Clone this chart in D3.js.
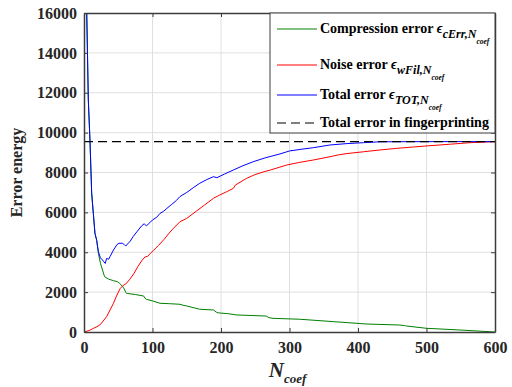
<!DOCTYPE html>
<html>
<head>
<meta charset="utf-8">
<script src="https://cdn.jsdelivr.net/npm/d3@7"></script>
<style>
  body { margin: 0; background: #fff; }
  svg text { font-family: "Liberation Serif", "Times New Roman", serif; }
</style>
</head>
<body>
<div id="chart"></div>
<script>
// ---- data ----
const xTicks = [0, 100, 200, 300, 400, 500, 600];
const yTicks = [0, 2000, 4000, 6000, 8000, 10000, 12000, 14000, 16000];
const fingerprintErr = 9550;

const nTotal = [2, 4, 6.3, 8.8, 11.2, 13.6, 16, 18.5, 21, 24, 27, 29, 31, 33, 36, 38, 43, 48, 51, 56, 59, 61, 63, 67, 72, 78, 84, 88, 91, 96, 100, 106, 111, 116, 121, 128, 135, 140, 150, 160, 169, 179, 189, 194, 205, 218, 232, 247, 265, 286, 300, 318, 335, 359, 384, 408, 432, 470, 520, 600];
const total = [20000, 16000, 11640, 9545, 6955, 5950, 4950, 4600, 4030, 3720, 3610, 3520, 3440, 3690, 3650, 3780, 4110, 4380, 4450, 4450, 4380, 4310, 4400, 4530, 4800, 5060, 5320, 5430, 5320, 5480, 5620, 5750, 5950, 6050, 6200, 6400, 6600, 6790, 7000, 7250, 7460, 7640, 7790, 7740, 7920, 8125, 8340, 8540, 8740, 8930, 9080, 9170, 9245, 9380, 9450, 9495, 9540, 9545, 9550, 9550];

const nNoise = [0, 3, 8, 14, 19, 23, 28, 33, 38, 43, 48, 53, 57, 61, 67, 73, 79, 85, 89, 93, 97, 102, 109, 117, 124, 130, 140, 150, 164, 176, 189, 198, 208, 218, 221, 237, 250, 263, 272, 286, 296, 315, 335, 359, 371, 384, 408, 432, 456, 481, 505, 535, 563, 600];
const noise = [0, 30, 80, 185, 270, 350, 550, 770, 1100, 1440, 1850, 2190, 2330, 2410, 2650, 2940, 3300, 3610, 3760, 3800, 3950, 4110, 4350, 4650, 4950, 5180, 5530, 5700, 6060, 6370, 6705, 6870, 7030, 7205, 7370, 7700, 7900, 8040, 8125, 8270, 8375, 8510, 8627, 8790, 8880, 8950, 9040, 9130, 9210, 9280, 9345, 9420, 9495, 9545];

const nCompr = [2, 4, 6.3, 8.8, 11.2, 13.6, 16, 18.5, 21, 24, 27, 30, 36, 43, 49, 52, 56, 58, 61, 62, 75, 87, 89, 91, 100, 111, 125, 140, 146, 150, 169, 189, 193, 196, 210, 223, 266, 270, 276, 315, 364, 413, 461, 468, 471, 500, 549, 600];
const compr = [20000, 16000, 11640, 9545, 6955, 5950, 4950, 4600, 3950, 3445, 3110, 2775, 2650, 2575, 2520, 2440, 2300, 2200, 1990, 1940, 1880, 1805, 1700, 1640, 1560, 1440, 1420, 1390, 1330, 1305, 1140, 1105, 1000, 960, 920, 855, 800, 720, 685, 640, 520, 400, 350, 320, 300, 185, 100, 0];

// ---- layout ----
const W = 512, H = 387;
const margin = {top: 13, right: 17, bottom: 55, left: 84};
const width = W - margin.left - margin.right,
  height = H - margin.top - margin.bottom;

const svg = d3.select('#chart').append('svg')
  .attr('width', W)
  .attr('height', H);

const g = svg.append('g')
  .attr('transform', 'translate(' + margin.left + ',' + margin.top + ')');

const x = d3.scaleLinear().domain([0, 600]).range([0, width]);
const y = d3.scaleLinear().domain([0, 16000]).range([height, 0]);

const axisCol = '#3c3c3c';

// grid
g.append('g').selectAll('line.gx')
  .data(xTicks.slice(1, -1))
  .enter().append('line')
  .attr('x1', d => x(d)).attr('x2', d => x(d))
  .attr('y1', 0).attr('y2', height)
  .attr('stroke', '#dfdfdf').attr('stroke-width', 1);
g.append('g').selectAll('line.gy')
  .data(yTicks.slice(1, -1))
  .enter().append('line')
  .attr('x1', 0).attr('x2', width)
  .attr('y1', d => y(d)).attr('y2', d => y(d))
  .attr('stroke', '#dfdfdf').attr('stroke-width', 1);

// clip for the curves
svg.append('defs').append('clipPath').attr('id', 'clip')
  .append('rect').attr('width', width).attr('height', height);

const line = d3.line().x(d => x(d[0])).y(d => y(d[1]));
const plot = g.append('g').attr('clip-path', 'url(#clip)');

plot.append('path')
  .datum(nCompr.map((n, i) => [n, compr[i]]))
  .attr('d', line).attr('fill', 'none')
  .attr('stroke', '#008000').attr('stroke-width', 1);
plot.append('path')
  .datum(nNoise.map((n, i) => [n, noise[i]]))
  .attr('d', line).attr('fill', 'none')
  .attr('stroke', '#ff0000').attr('stroke-width', 1);
plot.append('path')
  .datum(nTotal.map((n, i) => [n, total[i]]))
  .attr('d', line).attr('fill', 'none')
  .attr('stroke', '#0000ff').attr('stroke-width', 1);
plot.append('line')
  .attr('x1', x(0)).attr('x2', x(600))
  .attr('y1', y(fingerprintErr)).attr('y2', y(fingerprintErr))
  .attr('stroke', '#000').attr('stroke-width', 1.2)
  .attr('stroke-dasharray', '9,5');

// axes
const fmt = d3.format('d');
const axB = g.append('g').attr('transform', 'translate(0,' + height + ')')
  .call(d3.axisBottom(x).tickValues(xTicks).tickFormat(fmt).tickSizeInner(-4).tickSizeOuter(0).tickPadding(10));
const axL = g.append('g')
  .call(d3.axisLeft(y).tickValues(yTicks).tickFormat(fmt).tickSizeInner(-4).tickSizeOuter(0).tickPadding(7));
const axT = g.append('g')
  .call(d3.axisTop(x).tickValues(xTicks).tickFormat('').tickSizeInner(-4).tickSizeOuter(0));
const axR = g.append('g').attr('transform', 'translate(' + width + ',0)')
  .call(d3.axisRight(y).tickValues(yTicks).tickFormat('').tickSizeInner(-4).tickSizeOuter(0));

[axB, axL, axT, axR].forEach(a => {
  a.select('.domain').attr('stroke', axisCol).attr('stroke-width', 1.5);
  a.selectAll('.tick line').attr('stroke', axisCol);
  a.selectAll('text')
    .attr('fill', '#262626')
    .style('font-family', '"Liberation Serif", serif')
    .style('font-size', '16px')
    .style('font-weight', 'bold');
});

// axis labels
svg.append('text')
  .attr('transform', 'translate(22,' + (margin.top + height / 2) + ') rotate(-90)')
  .attr('text-anchor', 'middle')
  .attr('fill', '#262626')
  .style('font-size', '16px').style('font-weight', 'bold')
  .text('Error energy');

const xl = svg.append('text')
  .attr('x', margin.left + width / 2 - 2).attr('y', 377)
  .attr('text-anchor', 'middle')
  .attr('fill', '#262626')
  .style('font-weight', 'bold').style('font-style', 'italic');
xl.append('tspan').style('font-size', '21px').text('N');
xl.append('tspan').attr('dy', 6).style('font-size', '13px').text('coef');

// legend
const lg = g.append('g');
const lx = 270 - margin.left, lw = width - lx, lh = 133 - margin.top;
lg.append('rect')
  .attr('x', lx).attr('y', 0)
  .attr('width', lw).attr('height', lh)
  .attr('fill', '#fff').attr('stroke', axisCol).attr('stroke-width', 1);

const legItems = [
  {col: '#008000', dash: null, y: 33 - margin.top, main: 'Compression error ', sub: 'cErr,N'},
  {col: '#ff0000', dash: null, y: 69 - margin.top, main: 'Noise error ', sub: 'wFil,N'},
  {col: '#0000ff', dash: null, y: 99 - margin.top, main: 'Total error ', sub: 'TOT,N'},
  {col: '#000', dash: '9,5', y: 127 - margin.top, main: 'Total error in fingerprinting', sub: null}
];

legItems.forEach(it => {
  lg.append('line')
    .attr('x1', 277 - margin.left).attr('x2', 317 - margin.left)
    .attr('y1', it.y - 4).attr('y2', it.y - 4)
    .attr('stroke', it.col).attr('stroke-width', it.dash ? 1.2 : 1)
    .attr('stroke-dasharray', it.dash);
  const t = lg.append('text')
    .attr('x', 320 - margin.left).attr('y', it.y)
    .attr('fill', '#000')
    .style('font-size', '14px').style('font-weight', 'bold');
  t.append('tspan').text(it.main);
  if (it.sub) {
    t.append('tspan').style('font-style', 'italic').style('font-size', '14px').text('\u03f5');
    t.append('tspan').attr('dy', 5).style('font-style', 'italic').style('font-size', '12px').text(it.sub);
    t.append('tspan').attr('dy', 6).style('font-style', 'italic').style('font-size', '7.5px').text('coef');
  }
});
</script>
</body>
</html>
